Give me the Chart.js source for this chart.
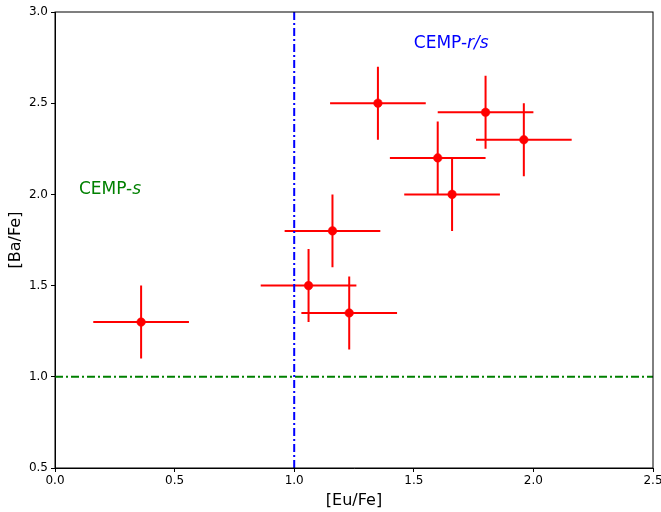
<!DOCTYPE html>
<html>
<head>
<meta charset="utf-8">
<script src="https://cdn.jsdelivr.net/npm/chart.js@4.4.1/dist/chart.umd.min.js"></script>
<style>
  body { margin: 0; background: #fff; }
  canvas { display: block; }
</style>
</head>
<body>
<canvas id="chart" width="661" height="512"></canvas>
<script>
// ---- data ----
const euFe  = [0.36, 1.06, 1.16, 1.23, 1.35, 1.60, 1.66, 1.80, 1.96];
const baFe  = [1.30, 1.50, 1.80, 1.35, 2.50, 2.20, 2.00, 2.45, 2.30];
const euErr = [0.2, 0.2, 0.2, 0.2, 0.2, 0.2, 0.2, 0.2, 0.2];
const baErr = [0.2, 0.2, 0.2, 0.2, 0.2, 0.2, 0.2, 0.2, 0.2];

const xTicks = [0.0, 0.5, 1.0, 1.5, 2.0, 2.5];
const yTicks = [0.5, 1.0, 1.5, 2.0, 2.5, 3.0];

const euCut = 1.0;   // vertical divider
const baCut = 1.0;   // horizontal divider

// region labels: [prefix, italic part, x, y, colour]
const regionLabels = [
    ["CEMP-", "s", 0.1, 2.0, "#008000"],
    ["CEMP-", "r/s", 1.5, 2.8, "#0000ff"]
];

const FONT = "'DejaVu Sans', sans-serif";

// ---- error bars, drawn under the points ----
const errorBarPlugin = {
    id: 'errorBars',
    beforeDatasetsDraw(chart) {
        const { ctx, scales: { x, y } } = chart;
        ctx.save();
        ctx.strokeStyle = '#ff0000';
        ctx.lineWidth = 2;
        euFe.forEach((ex, i) => {
            const px = x.getPixelForValue(ex);
            const py = y.getPixelForValue(baFe[i]);
            ctx.beginPath();
            ctx.moveTo(x.getPixelForValue(ex - euErr[i]), py);
            ctx.lineTo(x.getPixelForValue(ex + euErr[i]), py);
            ctx.moveTo(px, y.getPixelForValue(baFe[i] - baErr[i]));
            ctx.lineTo(px, y.getPixelForValue(baFe[i] + baErr[i]));
            ctx.stroke();
        });
        ctx.restore();
    }
};

// ---- frame + region text ----
const framePlugin = {
    id: 'frame',
    afterDraw(chart) {
        const { ctx, chartArea: a, scales: { x, y } } = chart;
        ctx.save();
        ctx.strokeStyle = '#000';
        ctx.lineWidth = 1;
        ctx.strokeRect(a.left, a.top, a.right - a.left, a.bottom - a.top);

        ctx.textBaseline = 'alphabetic';
        ctx.textAlign = 'left';
        regionLabels.forEach(([pre, ital, lx, ly, col]) => {
            const px = x.getPixelForValue(lx);
            const py = y.getPixelForValue(ly);
            ctx.fillStyle = col;
            ctx.font = "17px " + FONT;
            ctx.fillText(pre, px, py);
            const w = ctx.measureText(pre).width;
            ctx.font = "oblique 17px " + FONT;
            ctx.fillText(ital, px + w, py);
        });
        ctx.restore();
    }
};

new Chart(document.getElementById('chart'), {
    type: 'scatter',
    data: {
        datasets: [
            {
                data: euFe.map((v, i) => ({ x: v, y: baFe[i] })),
                backgroundColor: '#ff0000',
                borderColor: '#ff0000',
                borderWidth: 0.5,
                pointRadius: 4.3,
                pointHoverRadius: 4.3
            },
            {
                data: [{ x: euCut, y: 0.5 }, { x: euCut, y: 3.0 }],
                showLine: true,
                borderColor: '#0000ff',
                borderWidth: 2,
                borderDash: [8, 3, 2, 3],
                pointRadius: 0
            },
            {
                data: [{ x: 0, y: baCut }, { x: 2.5, y: baCut }],
                showLine: true,
                borderColor: '#008000',
                borderWidth: 2,
                borderDash: [8, 3, 2, 3],
                pointRadius: 0
            }
        ]
    },
    options: {
        responsive: false,
        animation: false,
        devicePixelRatio: 1,
        layout: { padding: { top: 12, right: 8, left: 0, bottom: 0 } },
        plugins: {
            legend: { display: false },
            tooltip: { enabled: false }
        },
        scales: {
            x: {
                type: 'linear',
                min: 0, max: 2.5,
                afterBuildTicks: (s) => { s.ticks = xTicks.map(v => ({ value: v })); },
                afterFit: (s) => { s.height = 44; s.paddingLeft = 0; s.paddingRight = 0; },
                ticks: {
                    color: '#000',
                    padding: 2,
                    font: { family: FONT, size: 12 },
                    callback: (v) => Number(v).toFixed(1)
                },
                grid: { drawOnChartArea: false, tickLength: 4, color: '#000' },
                border: { color: '#000', width: 1 },
                title: {
                    display: true, text: '[Eu/Fe]', color: '#000',
                    font: { family: FONT, size: 16 },
                    padding: { top: 2, bottom: 2 }
                }
            },
            y: {
                type: 'linear',
                min: 0.5, max: 3.0,
                afterBuildTicks: (s) => { s.ticks = yTicks.map(v => ({ value: v })); },
                afterFit: (s) => { s.width = 55; s.paddingTop = 0; s.paddingBottom = 0; },
                ticks: {
                    color: '#000',
                    padding: 3,
                    font: { family: FONT, size: 12 },
                    callback: (v) => Number(v).toFixed(1)
                },
                grid: { drawOnChartArea: false, tickLength: 4, color: '#000' },
                border: { color: '#000', width: 1 },
                title: {
                    display: true, text: '[Ba/Fe]', color: '#000',
                    font: { family: FONT, size: 16 },
                    padding: { top: 6, bottom: 4 }
                }
            }
        }
    },
    plugins: [errorBarPlugin, framePlugin]
});
</script>
</body>
</html>
